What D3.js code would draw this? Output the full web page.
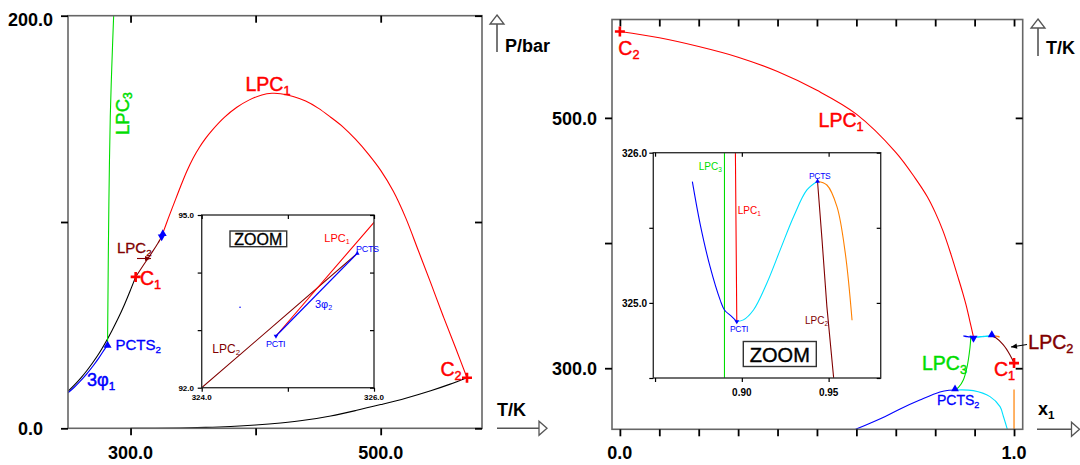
<!DOCTYPE html>
<html><head><meta charset="utf-8">
<script src="https://cdn.jsdelivr.net/npm/d3@7"></script>
<style>
body{margin:0;background:#fff;}
svg{display:block;font-family:"Liberation Sans",Arial,Helvetica,sans-serif;}
</style></head><body>
<svg id="c" width="1080" height="465"></svg>
<script>
// ---------------- DATA ----------------
// Left panel: P-T projection  [T/K, P/bar]
const ptTicksT = [300, 400, 500];
const ptTickLabelsT = ["300.0", "", "500.0"];
const ptTicksP = [0, 100, 200];
const ptTickLabelsP = ["0.0", "", "200.0"];
const ptVap1 = [[250,17.9],[255,20.9],[260,24.2],[265,27.9],[270,32.0],[275,36.5],[280,41.6],[285,47.2],[290,53.2],[295,59.8],[300,67.1],[304.1,73.4]];
const ptVap2 = [[300,0.02],[320,0.06],[340,0.18],[360,0.45],[380,0.9],[400,1.6],[420,2.6],[440,4.0],[460,6.0],[480,8.6],[500,11.5],[520,14.6],[540,18.2],[555,21.3],[569,24.5]];
const ptThreePhase1 = [[250,17.2],[255,19.9],[260,23.0],[265,26.4],[270,30.2],[275,34.4],[280,39.0],[281.6,40.2]];
const ptLPC1 = [[324.862,92.898],[326,94.873],[330,101.5],[335,109.4],[340,117.2],[345,124.6],[350,130.9],[355,136.1],[360,140.5],[365,144.3],[375,150.7],[385,155.6],[395,159.2],[405,161.6],[413,162.4],[420,162.2],[430,160.8],[440,158.6],[450,155.2],[460,150.8],[470,146.0],[480,140.0],[490,133.0],[500,125.0],[510,115.0],[520,102.0],[530,86.3],[540,70.5],[550,54.3],[560,38.8],[569,24.5]];
const ptLPC2 = [[304.1,73.4],[308,77.0],[312,80.6],[316,84.2],[320,87.9],[322,89.8],[323,90.85],[324,92.0],[325,93.29],[325.806,94.334]];
const ptLPC3 = [[281.6,40.2],[281.9,60],[282.2,81.6],[282.7,110],[283.8,151],[285.0,175],[286.5,200]];
const ptThreePhase2 = [[324.862,92.898],[325.806,94.334]];
const ptPCTS = [325.806,94.334];
const ptPCTI = [324.862,92.898];
const ptPCTS2 = [281.6,40.2];
const ptC1 = [304.1,73.4];
const ptC2 = [569,24.5];
const ptStray = [324.445,93.397];
const ptZoomTicksT = [324, 325, 326];
const ptZoomTickLabelsT = ["324.0", "", "326.0"];
const ptZoomTicksP = [92, 93, 94, 95];
const ptZoomTickLabelsP = ["92.0", "", "", "95.0"];

// Right panel: T-x projection  [x1, T/K]
const txTicksX = [0,0.1,0.2,0.3,0.4,0.5,0.6,0.7,0.8,0.9,1.0];
const txTickLabelsX = ["0.0","","","","","","","","","","1.0"];
const txTicksT = [300, 400, 500];
const txTickLabelsT = ["300.0", "", "500.0"];
const txLPC1 = [[0,569],[0.1,564],[0.2,557],[0.3,548.5],[0.4,537],[0.5,522],[0.6,503],[0.7,472.5],[0.75,451.5],[0.78,437],[0.8,424.5],[0.82,409.5],[0.84,391],[0.86,370.5],[0.87,360],[0.88,348.5],[0.888,337.5],[0.8963,326],[0.8971,324.876]];
const txLPC2 = [[0.9436,325.81],[0.9462,325.42],[0.9490,324.975],[0.9529,324.5],[0.9729,318.6],[0.9898,310.6],[1.0,304.1]];
const txLPC3 = [[0.8503,282.6],[0.8590,284.6],[0.8713,290.6],[0.8810,301.3],[0.8865,312.0],[0.8893,320.0],[0.8900,324.4],[0.8900,326.0]];
const txBlueLow = [[0.598,251.2],[0.672,261.3],[0.711,267.5],[0.761,274.6],[0.812,281.0],[0.835,282.4],[0.8503,282.6]];
const txCyanLow = [[0.8503,282.6],[0.8967,282.1],[0.9391,277.3],[0.9645,269.3],[0.9729,261.6],[0.983,251.2]];
const txOrangeLow = [[1.0,283.0],[1.0,251.2]];
const txBlue3 = [[0.8715,325.807],[0.8759,325.530],[0.8817,325.241],[0.8875,325.020],[0.8900,324.953],[0.8942,324.909],[0.8971,324.876]];
const txCyan3 = [[0.8971,324.876],[0.9009,324.887],[0.9067,324.953],[0.9144,325.131],[0.9221,325.353],[0.9298,325.574],[0.9375,325.752],[0.9436,325.810]];
const txOrange3 = [[0.9436,325.810],[0.9490,325.785],[0.9548,325.641],[0.9596,325.331],[0.9635,324.885]];
const txPCTS = [0.9436,325.81];
const txPCTI = [0.8971,324.876];
const txPCTS2 = [0.8503,282.6];
const txC1 = [1.0,304.1];
const txC2 = [0,569];
const txZoomTicksX = [0.85, 0.90, 0.95];
const txZoomTickLabelsX = ["", "0.90", "0.95"];
const txZoomTicksT = [324.5, 325.0, 325.5, 326.0];
const txZoomTickLabelsT = ["", "325.0", "", "326.0"];

// ---------------- DRAWING ----------------
const RED = "#ff0000", DRED = "#800000", GREEN = "#00dd00", BLUE = "#0000ff", CYAN = "#00e0ff", ORANGE = "#ff8000";
const svg = d3.select("#c");
svg.append("rect").attr("width", 1080).attr("height", 465).attr("fill", "#fff");
const defs = svg.append("defs");
function clipFor(id, x, y) {
  const [a, b] = x.range(), [c, d] = y.range();
  defs.append("clipPath").attr("id", id).append("rect")
    .attr("x", Math.min(a, b)).attr("y", Math.min(c, d))
    .attr("width", Math.abs(b - a)).attr("height", Math.abs(d - c));
  return `url(#${id})`;
}
function frame(g, x, y, stroke, sw, fill) {
  const [a, b] = x.range(), [c, d] = y.range();
  g.append("rect").attr("x", Math.min(a, b)).attr("y", Math.min(c, d))
    .attr("width", Math.abs(b - a)).attr("height", Math.abs(d - c))
    .attr("fill", fill || "none").attr("stroke", stroke).attr("stroke-width", sw);
}
function ticks(g, x, y, xt, yt, len, sw) {
  const [x0, x1] = x.range(), [y0, y1] = y.range();
  const st = s => { s.select(".domain").remove(); s.selectAll("line").attr("stroke", "#000").attr("stroke-width", sw); s.selectAll("text").remove(); };
  g.append("g").attr("transform", `translate(0,${y0})`).call(d3.axisBottom(x).tickValues(xt).tickSize(len).tickFormat("")).call(st);
  g.append("g").attr("transform", `translate(0,${y1})`).call(d3.axisBottom(x).tickValues(xt).tickSize(len).tickFormat("")).call(st);
  g.append("g").attr("transform", `translate(${x0},0)`).call(d3.axisLeft(y).tickValues(yt).tickSize(len).tickFormat("")).call(st);
  g.append("g").attr("transform", `translate(${x1},0)`).call(d3.axisLeft(y).tickValues(yt).tickSize(len).tickFormat("")).call(st);
}
function curve(g, x, y, data, color, sw, cv, clip) {
  g.append("path").datum(data)
    .attr("d", d3.line().x(d => x(d[0])).y(d => y(d[1])).curve(cv))
    .attr("fill", "none").attr("stroke", color).attr("stroke-width", sw)
    .attr("stroke-linejoin", "round").attr("clip-path", clip);
}
function label(g, x, y, main, sub, color, size, weight, thick) {
  const t = g.append("text").attr("x", x).attr("y", y).attr("fill", color)
    .attr("font-size", size).attr("font-weight", weight || "normal");
  if (thick) t.attr("stroke", color).attr("stroke-width", thick);
  t.append("tspan").text(main);
  if (sub) t.append("tspan").attr("font-size", size * 0.65).attr("dy", size * 0.2).text(sub);
  return t;
}
function cross(g, px, py, r, sw) {
  g.append("path").attr("d", `M${px - r},${py}H${px + r}M${px},${py - r}V${py + r}`)
    .attr("stroke", RED).attr("stroke-width", sw).attr("fill", "none");
}
function tri(g, px, py, size, down) {
  g.append("path").attr("d", d3.symbol(d3.symbolTriangle, size)())
    .attr("transform", `translate(${px},${py})${down ? " rotate(180)" : ""}`)
    .attr("fill", BLUE);
}
function arrowUp(g, x, yTip, yEnd) {
  g.append("line").attr("x1", x).attr("x2", x).attr("y1", yTip + 9).attr("y2", yEnd).attr("stroke", "#555").attr("stroke-width", 1.6);
  g.append("path").attr("d", `M${x},${yTip}L${x + 7},${yTip + 9}L${x - 7},${yTip + 9}Z`).attr("fill", "#fff").attr("stroke", "#555").attr("stroke-width", 1.3);
}
function arrowRight(g, y, xStart, xTip) {
  g.append("line").attr("x1", xStart).attr("x2", xTip - 8).attr("y1", y).attr("y2", y).attr("stroke", "#555").attr("stroke-width", 1.6);
  g.append("path").attr("d", `M${xTip},${y}L${xTip - 8},${y - 7}L${xTip - 8},${y + 7}Z`).attr("fill", "#fff").attr("stroke", "#555").attr("stroke-width", 1.3);
}
function smallArrow(g, x1, y1, x2, y2, color) {
  g.append("line").attr("x1", x1).attr("y1", y1).attr("x2", x2).attr("y2", y2).attr("stroke", color).attr("stroke-width", 1.1);
  const ang = Math.atan2(y2 - y1, x2 - x1) * 180 / Math.PI;
  g.append("path").attr("d", "M0,0L-6,-2.6L-6,2.6Z").attr("fill", color)
    .attr("transform", `translate(${x2},${y2}) rotate(${ang})`);
}
const CR = d3.curveCatmullRom.alpha(0.5);
const LIN = d3.curveLinear;
const TH = 0.45; // slight stroke to thicken big labels

// ===== LEFT PANEL =====
const xL = d3.scaleLinear().domain([250, 581]).range([68, 482]);
const yL = d3.scaleLinear().domain([0, 200]).range([428.3, 15.7]);
const gL = svg.append("g");
const clipL = clipFor("clipL", xL, yL);
curve(gL, xL, yL, ptVap2, "#000", 1.1, CR, clipL);
curve(gL, xL, yL, ptVap1, "#000", 1.1, CR, clipL);
curve(gL, xL, yL, ptThreePhase1, BLUE, 1.2, CR, clipL);
curve(gL, xL, yL, ptLPC3, GREEN, 1.1, CR, clipL);
curve(gL, xL, yL, ptLPC2, DRED, 1.1, CR, clipL);
curve(gL, xL, yL, ptLPC1, RED, 1.1, CR, clipL);
curve(gL, xL, yL, ptThreePhase2, BLUE, 1.1, LIN, clipL);
frame(gL, xL, yL, "#666", 1.6);
ticks(gL, xL, yL, ptTicksT, ptTicksP, 7, 1.8);
tri(gL, xL(ptPCTS[0]), yL(ptPCTS[1]), 26, false);
tri(gL, xL(ptPCTI[0]), yL(ptPCTI[1]), 26, true);
tri(gL, xL(ptPCTS2[0]), yL(ptPCTS2[1]), 28, false);
cross(gL, xL(ptC1[0]), yL(ptC1[1]), 5, 2.6);
cross(gL, xL(ptC2[0]), yL(ptC2[1]), 5, 2.6);
// tick labels
ptTicksT.forEach((v, i) => { if (ptTickLabelsT[i]) gL.append("text").attr("x", xL(v)).attr("y", 459).attr("text-anchor", "middle").attr("font-size", 18).attr("font-weight", "bold").text(ptTickLabelsT[i]); });
ptTicksP.forEach((v, i) => { if (ptTickLabelsP[i]) gL.append("text").attr("x", 30.5).attr("y", Math.max(yL(v) + 7, 26)).attr("text-anchor", "middle").attr("font-size", 18).attr("font-weight", "bold").text(ptTickLabelsP[i]); });
arrowUp(gL, 497, 15, 52);
gL.append("text").attr("x", 505).attr("y", 52).attr("font-size", 18).attr("font-weight", "bold").text("P/bar");
arrowRight(gL, 428.3, 497, 547);
gL.append("text").attr("x", 497).attr("y", 416).attr("font-size", 18).attr("font-weight", "bold").text("T/K");
// curve labels
label(gL, 245.5, 91, "LPC", "1", RED, 19.5, null, TH);
label(gL, 0, 0, "LPC", "3", GREEN, 18.5, null, TH).attr("transform", "translate(128.5,135) rotate(-90)");
label(gL, 117, 253, "LPC", "2", DRED, 15, null, 0.3);
smallArrow(gL, 137, 258.5, 151, 258.5, DRED);
label(gL, 140, 285, "C", "1", RED, 19.5, null, TH);
label(gL, 115.5, 350, "PCTS", "2", BLUE, 15, null, 0.3);
label(gL, 87, 386, "3φ", "1", BLUE, 18, null, TH);
label(gL, 440.5, 376, "C", "2", RED, 19.5, null, TH);

// ----- left inset -----
const xLi = d3.scaleLinear().domain([324, 326]).range([201.7, 374]);
const yLi = d3.scaleLinear().domain([92, 95]).range([387.7, 215]);
const gLi = svg.append("g");
frame(gLi, xLi, yLi, "none", 0, "#fff");
const clipLi = clipFor("clipLi", xLi, yLi);
curve(gLi, xLi, yLi, ptLPC2, DRED, 1.1, LIN, clipLi);
curve(gLi, xLi, yLi, ptLPC1, RED, 1.1, LIN, clipLi);
curve(gLi, xLi, yLi, ptThreePhase2, BLUE, 1.2, LIN, clipLi);
gLi.append("circle").attr("cx", xLi(ptStray[0])).attr("cy", yLi(ptStray[1])).attr("r", 0.8).attr("fill", BLUE);
tri(gLi, xLi(ptPCTS[0]), yLi(ptPCTS[1]), 9, false);
tri(gLi, xLi(ptPCTI[0]), yLi(ptPCTI[1]), 9, true);
frame(gLi, xLi, yLi, "#333", 1.4);
ticks(gLi, xLi, yLi, ptZoomTicksT, ptZoomTicksP, 4, 1.2);
ptZoomTicksT.forEach((v, i) => { if (ptZoomTickLabelsT[i]) gLi.append("text").attr("x", xLi(v)).attr("y", 400).attr("text-anchor", "middle").attr("font-size", 8).attr("font-weight", "bold").text(ptZoomTickLabelsT[i]); });
ptZoomTicksP.forEach((v, i) => { if (ptZoomTickLabelsP[i]) gLi.append("text").attr("x", 194).attr("y", yLi(v) + 3).attr("text-anchor", "end").attr("font-size", 8).attr("font-weight", "bold").text(ptZoomTickLabelsP[i]); });
gLi.append("rect").attr("x", 230).attr("y", 231).attr("width", 56.7).attr("height", 15.7).attr("fill", "#fff").attr("stroke", "#333").attr("stroke-width", 1.4);
gLi.append("text").attr("x", 258.3).attr("y", 245).attr("text-anchor", "middle").attr("font-size", 16).attr("stroke", "#000").attr("stroke-width", 0.3).text("ZOOM");
label(gLi, 324.3, 242, "LPC", "1", RED, 11);
label(gLi, 356, 251.5, "PCTS", null, BLUE, 9).attr("letter-spacing", -0.3);
label(gLi, 315, 308, "3φ", "2", BLUE, 11);
label(gLi, 266, 347, "PCTI", null, BLUE, 9).attr("letter-spacing", -0.3);
label(gLi, 212.3, 353, "LPC", "2", DRED, 12);

// ===== RIGHT PANEL =====
const xR = d3.scaleLinear().domain([-0.02, 1.022]).range([612, 1022.7]);
const yR = d3.scaleLinear().domain([251.2, 578.6]).range([429.3, 19.5]);
const gR = svg.append("g");
const clipR = clipFor("clipR", xR, yR);
curve(gR, xR, yR, txBlueLow, BLUE, 1.1, CR, clipR);
curve(gR, xR, yR, txCyanLow, CYAN, 1.1, CR, clipR);
curve(gR, xR, yR, txOrangeLow, ORANGE, 1.2, LIN, clipR);
curve(gR, xR, yR, txLPC3, GREEN, 1.1, CR, clipR);
curve(gR, xR, yR, txLPC1, RED, 1.1, CR, clipR);
curve(gR, xR, yR, txLPC2, DRED, 1.1, CR, clipR);
curve(gR, xR, yR, txBlue3, BLUE, 1.4, CR, clipR);
curve(gR, xR, yR, txCyan3, CYAN, 1.4, CR, clipR);
curve(gR, xR, yR, txOrange3, ORANGE, 1.4, CR, clipR);
frame(gR, xR, yR, "#666", 1.6);
ticks(gR, xR, yR, txTicksX, txTicksT, 7, 1.8);
tri(gR, xR(txPCTS[0]), yR(txPCTS[1]) - 1, 28, false);
tri(gR, xR(txPCTI[0]), yR(txPCTI[1]) + 1, 28, true);
tri(gR, xR(txPCTS2[0]), yR(txPCTS2[1]) - 1, 26, false);
cross(gR, xR(txC1[0]), yR(txC1[1]), 5, 2.6);
cross(gR, xR(txC2[0]), yR(txC2[1]), 5, 2.6);
txTicksX.forEach((v, i) => { if (txTickLabelsX[i]) gR.append("text").attr("x", xR(v)).attr("y", 459).attr("text-anchor", "middle").attr("font-size", 18).attr("font-weight", "bold").text(txTickLabelsX[i]); });
txTicksT.forEach((v, i) => { if (txTickLabelsT[i]) gR.append("text").attr("x", 574.5).attr("y", yR(v) + 7).attr("text-anchor", "middle").attr("font-size", 18).attr("font-weight", "bold").text(txTickLabelsT[i]); });
arrowUp(gR, 1038, 19, 56);
gR.append("text").attr("x", 1046).attr("y", 54).attr("font-size", 18).attr("font-weight", "bold").text("T/K");
arrowRight(gR, 429.3, 1037, 1079.5);
label(gR, 1038, 415, "x", "1", "#000", 18, "bold");
label(gR, 618.3, 55, "C", "2", RED, 19.5, null, TH);
label(gR, 818.6, 127, "LPC", "1", RED, 19.5, null, TH);
label(gR, 922, 370, "LPC", "3", GREEN, 19.5, null, TH);
label(gR, 1028.3, 349, "LPC", "2", DRED, 19.5, null, TH);
smallArrow(gR, 1027, 344.5, 1011, 347, "#000");
label(gR, 994, 376, "C", "1", RED, 19.5, null, TH);
label(gR, 937, 405, "PCTS", "2", BLUE, 14, null, 0.3);

// ----- right inset -----
const xRi = d3.scaleLinear().domain([0.849, 0.980]).range([653.3, 880.7]);
const yRi = d3.scaleLinear().domain([324.5, 326]).range([378, 152.7]);
const gRi = svg.append("g");
frame(gRi, xRi, yRi, "none", 0, "#fff");
const clipRi = clipFor("clipRi", xRi, yRi);
curve(gRi, xRi, yRi, txLPC3, GREEN, 1.1, LIN, clipRi);
curve(gRi, xRi, yRi, txLPC1, RED, 1.1, LIN, clipRi);
curve(gRi, xRi, yRi, txLPC2, DRED, 1.1, LIN, clipRi);
curve(gRi, xRi, yRi, txBlue3, BLUE, 1.1, CR, clipRi);
curve(gRi, xRi, yRi, txCyan3, CYAN, 1.1, CR, clipRi);
curve(gRi, xRi, yRi, txOrange3, ORANGE, 1.1, CR, clipRi);
tri(gRi, xRi(txPCTS[0]), yRi(txPCTS[1]), 10, false);
tri(gRi, xRi(txPCTI[0]), yRi(txPCTI[1]), 10, true);
frame(gRi, xRi, yRi, "#333", 1.4);
ticks(gRi, xRi, yRi, txZoomTicksX, txZoomTicksT, 4, 1.2);
txZoomTicksX.forEach((v, i) => { if (txZoomTickLabelsX[i]) gRi.append("text").attr("x", xRi(v)).attr("y", 396).attr("text-anchor", "middle").attr("font-size", 10).attr("font-weight", "bold").text(txZoomTickLabelsX[i]); });
txZoomTicksT.forEach((v, i) => { if (txZoomTickLabelsT[i]) gRi.append("text").attr("x", 647).attr("y", yRi(v) + 4).attr("text-anchor", "end").attr("font-size", 10).attr("font-weight", "bold").text(txZoomTickLabelsT[i]); });
gRi.append("rect").attr("x", 743.3).attr("y", 341.5).attr("width", 73).attr("height", 25).attr("fill", "#fff").attr("stroke", "#333").attr("stroke-width", 1.4);
gRi.append("text").attr("x", 779.8).attr("y", 362).attr("text-anchor", "middle").attr("font-size", 20).attr("stroke", "#000").attr("stroke-width", 0.4).text("ZOOM");
label(gRi, 698.7, 170, "LPC", "3", GREEN, 10);
label(gRi, 737.7, 214, "LPC", "1", RED, 10);
label(gRi, 809, 178.5, "PCTS", null, BLUE, 8.5).attr("letter-spacing", -0.3);
label(gRi, 730, 332, "PCTI", null, BLUE, 8.5).attr("letter-spacing", -0.3);
label(gRi, 805, 324, "LPC", "2", DRED, 10);
</script>
</body></html>
